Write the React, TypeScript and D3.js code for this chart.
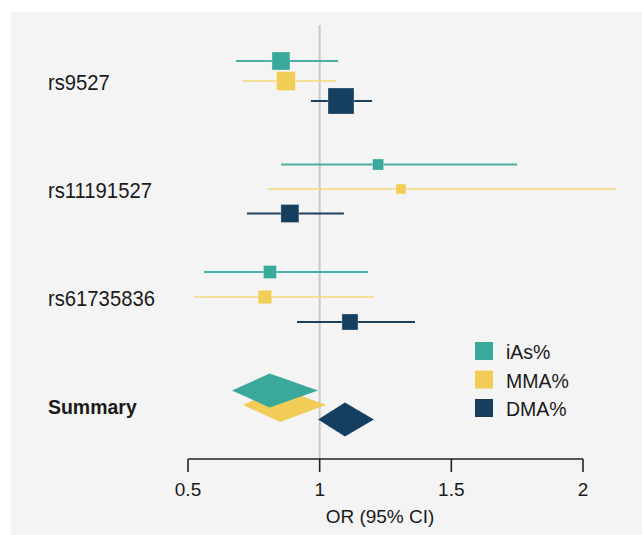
import React from "react";
import * as d3 from "d3";

const width = 642;
const height = 535;

// rows (SNPs + pooled summary)
const rows = ["rs9527", "rs11191527", "rs61735836", "Summary"];
const series = ["iAs%", "MMA%", "DMA%"];
const colors = ["#3aa99b", "#f1cd57", "#163e5e"];
const lineColors = ["#48b1a4", "#f3d97e", "#1f3f5e"];

// odds ratios and 95% CI, one array per series, in row order
const iasOR = [0.853, 1.222, 0.811, 0.81];
const iasLo = [0.682, 0.853, 0.561, 0.667];
const iasHi = [1.07, 1.75, 1.184, 0.994];

const mmaOR = [0.872, 1.309, 0.792, 0.85];
const mmaLo = [0.709, 0.804, 0.523, 0.709];
const mmaHi = [1.062, 2.125, 1.206, 1.024];

const dmaOR = [1.081, 0.887, 1.115, 1.096];
const dmaLo = [0.967, 0.724, 0.914, 0.994];
const dmaHi = [1.199, 1.092, 1.362, 1.206];

// relative study weights (square area)
const iasW = [48, 18, 25];
const mmaW = [53, 15, 27];
const dmaW = [100, 48, 38];

const ticks = [0.5, 1, 1.5, 2];

const all = [
  { or: iasOR, lo: iasLo, hi: iasHi, w: iasW },
  { or: mmaOR, lo: mmaLo, hi: mmaHi, w: mmaW },
  { or: dmaOR, lo: dmaLo, hi: dmaHi, w: dmaW },
];

// layout
const rowSpread = [20, 24.5, 25, 14.5];
const axisY = 459;
const font = "'Liberation Sans', Arial, sans-serif";

export default function App() {
  const x = d3.scaleLinear().domain([0.5, 2]).range([188, 583]);
  const y = d3.scalePoint().domain(rows).range([81, 405]);
  const size = d3.scaleSqrt().domain([0, 100]).range([0, 26]);

  const sy = (ri: number, si: number) => (y(rows[ri]) as number) + (si - 1) * rowSpread[ri];
  const summaryIdx = rows.length - 1;
  const diamondOrder = [1, 0, 2];

  return (
    <svg width={width} height={height} style={{ position: "absolute", left: 0, top: 0 }}>
      <rect x={0} y={0} width={width} height={height} fill="#fff" />
      <rect x={11} y={12} width={width - 11} height={height - 12} fill="#f4f4f4" />

      <line x1={x(1)} x2={x(1)} y1={25} y2={axisY} stroke="#c9c9c9" strokeWidth={2} />

      {rows.slice(0, summaryIdx).map((r, ri) => (
        <g key={r}>
          {series.map((s, si) => {
            const d = all[si];
            const cy = sy(ri, si);
            const sz = size(d.w[ri]);
            return (
              <g key={s}>
                <line
                  x1={x(d.lo[ri])}
                  x2={x(d.hi[ri])}
                  y1={cy}
                  y2={cy}
                  stroke={lineColors[si]}
                  strokeWidth={si === 1 ? 1.6 : 2}
                />
                <rect
                  x={x(d.or[ri]) - sz / 2}
                  y={cy - sz / 2}
                  width={sz}
                  height={sz}
                  fill={colors[si]}
                  stroke="#ffffff"
                  strokeOpacity={0.35}
                  strokeWidth={0.8}
                />
              </g>
            );
          })}
        </g>
      ))}

      {diamondOrder.map((si) => {
        const d = all[si];
        const cy = sy(summaryIdx, si);
        const h = 17;
        const pts = [
          [x(d.lo[summaryIdx]), cy],
          [x(d.or[summaryIdx]), cy - h],
          [x(d.hi[summaryIdx]), cy],
          [x(d.or[summaryIdx]), cy + h],
        ];
        return <polygon key={series[si]} points={pts.map((p) => p.join(",")).join(" ")} fill={colors[si]} />;
      })}

      {rows.map((r) => {
        const bold = r === "Summary";
        return (
          <g key={r} transform={`translate(48, ${(y(r) as number) + 2}) scale(${bold ? 0.95 : 0.9}, 1)`}>
            <text
              x={0}
              y={0}
              dominantBaseline="central"
              fontFamily={font}
              fontSize={bold ? 20.5 : 22.5}
              fontWeight={bold ? "bold" : "normal"}
              fill="#1a1a1a"
            >
              {r}
            </text>
          </g>
        );
      })}

      <g>
        <line x1={x(0.5)} x2={x(2)} y1={axisY} y2={axisY} stroke="#222" strokeWidth={1.6} />
        {ticks.map((t) => (
          <g key={t}>
            <line x1={x(t)} x2={x(t)} y1={axisY} y2={axisY + 13} stroke="#222" strokeWidth={1.6} />
            <text x={x(t)} y={496} textAnchor="middle" fontFamily={font} fontSize={19} fill="#1a1a1a">
              {t}
            </text>
          </g>
        ))}
        <text x={380} y={523} textAnchor="middle" fontFamily={font} fontSize={19} fill="#1a1a1a">
          OR (95% CI)
        </text>
      </g>

      {series.map((s, si) => (
        <g key={s} transform={`translate(475, ${351 + si * 28.5})`}>
          <rect x={0} y={-9} width={18} height={18} fill={colors[si]} />
          <text x={31} y={1} dominantBaseline="central" fontFamily={font} fontSize={19.5} fill="#1a1a1a">
            {s}
          </text>
        </g>
      ))}
    </svg>
  );
}
